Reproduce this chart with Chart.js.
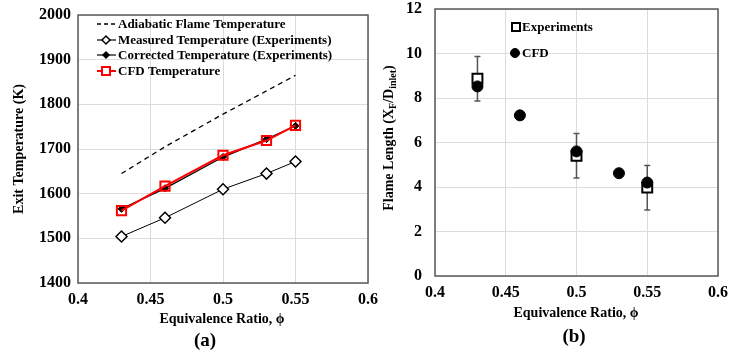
<!DOCTYPE html>
<html>
<head>
<meta charset="utf-8">
<script src="https://cdn.jsdelivr.net/npm/chart.js@4.4.1/dist/chart.umd.min.js"></script>
<style>
  body { margin: 0; background: #fff; }
  #wrap { position: relative; width: 743px; height: 356px; overflow: hidden; }
  #chartA { position: absolute; left: 0; top: 0; }
  #chartB { position: absolute; left: 372px; top: 0; }
</style>
</head>
<body>
<div id="wrap">
  <canvas id="chartA" width="390" height="356"></canvas>
  <canvas id="chartB" width="371" height="356"></canvas>
</div>
<script>
// panel (a): exit temperature
const phi = [0.43, 0.46, 0.5, 0.53, 0.55];
const adiabaticT = [1645, 1705, 1778, 1830, 1865];
const measuredT = [1504, 1546, 1610, 1645, 1672];
const correctedT = [1566, 1612, 1682, 1722, 1752];
const cfdT = [1562, 1617, 1686, 1719, 1753];

// panel (b): flame length
const phiExp = [0.43, 0.5, 0.55];
const flameExp = [8.87, 5.4, 3.97];
const flameErr = [1.0, 1.0, 1.0];
const phiCfd = [0.43, 0.46, 0.5, 0.53, 0.55];
const flameCfd = [8.52, 7.22, 5.6, 4.62, 4.2];

const xTicks = ['0.4', '0.45', '0.5', '0.55', '0.6'];
const tempTicks = ['1400', '1500', '1600', '1700', '1800', '1900', '2000'];
const flameTicks = ['0', '2', '4', '6', '8', '10', '12'];

const FONT = '"Liberation Serif", "Times New Roman", serif';
const GRID = '#dcdcdc';

function pts(xs, ys) {
  return xs.map((x, i) => ({ x: x, y: ys[i] }));
}

// plot frame, error bars, titles and in-plot legend
const decor = {
  id: 'decor',
  beforeDatasetsDraw(chart, args, o) {
    const ctx = chart.ctx;
    const a = chart.chartArea;
    ctx.save();
    ctx.strokeStyle = '#595959';
    ctx.lineWidth = 1.5;
    ctx.strokeRect(a.left, a.top, a.right - a.left, a.bottom - a.top);
    if (o.errors) {
      const xs = chart.scales.x, ys = chart.scales.y;
      ctx.strokeStyle = '#555';
      ctx.lineWidth = 1.5;
      o.errors.x.forEach((v, i) => {
        const px = xs.getPixelForValue(v);
        const top = ys.getPixelForValue(o.errors.y[i] + o.errors.e[i]);
        const bot = ys.getPixelForValue(o.errors.y[i] - o.errors.e[i]);
        ctx.beginPath();
        ctx.moveTo(px, top); ctx.lineTo(px, bot);
        ctx.moveTo(px - 3, top); ctx.lineTo(px + 3, top);
        ctx.moveTo(px - 3, bot); ctx.lineTo(px + 3, bot);
        ctx.stroke();
      });
    }
    ctx.restore();
  },
  afterDraw(chart, args, o) {
    const ctx = chart.ctx;
    ctx.save();
    ctx.fillStyle = '#000';
    ctx.textAlign = 'center';
    ctx.textBaseline = 'middle';
    ctx.font = 'bold 14px ' + FONT;
    ctx.fillText(o.xTitle, o.xTitlePos[0], o.xTitlePos[1]);
    ctx.font = 'bold 19px ' + FONT;
    ctx.fillText(o.tag, o.tagPos[0], o.tagPos[1]);

    // rotated y title, pieces may be subscripts
    ctx.translate(o.yTitlePos[0], o.yTitlePos[1]);
    ctx.rotate(-Math.PI / 2);
    ctx.textAlign = 'left';
    let total = 0;
    o.yTitle.forEach(p => {
      ctx.font = 'bold ' + (p.sub ? 10 : 14) + 'px ' + FONT;
      total += ctx.measureText(p.t).width;
    });
    let cx = -total / 2;
    o.yTitle.forEach(p => {
      ctx.font = 'bold ' + (p.sub ? 10 : 14) + 'px ' + FONT;
      ctx.fillText(p.t, cx, p.sub ? 4 : 0);
      cx += ctx.measureText(p.t).width;
    });
    ctx.setTransform(1, 0, 0, 1, 0, 0);

    // legend
    ctx.font = 'bold 13px ' + FONT;
    ctx.textAlign = 'left';
    o.legend.forEach(it => {
      ctx.strokeStyle = it.color;
      ctx.fillStyle = it.color;
      if (it.line) {
        ctx.lineWidth = it.lineWidth;
        ctx.setLineDash(it.dash || []);
        ctx.beginPath();
        ctx.moveTo(it.x0, it.y); ctx.lineTo(it.x1, it.y);
        ctx.stroke();
        ctx.setLineDash([]);
      }
      const mx = it.mx, my = it.y, r = it.r;
      ctx.lineWidth = it.mw || 1.5;
      ctx.beginPath();
      if (it.marker === 'diamond') {
        ctx.moveTo(mx, my - r); ctx.lineTo(mx + r, my);
        ctx.lineTo(mx, my + r); ctx.lineTo(mx - r, my); ctx.closePath();
      } else if (it.marker === 'square') {
        ctx.rect(mx - r, my - r, 2 * r, 2 * r);
      } else if (it.marker === 'circle') {
        ctx.arc(mx, my, r, 0, Math.PI * 2);
      }
      if (it.marker) {
        if (it.fill) { ctx.fillStyle = it.fill; ctx.fill(); }
        ctx.stroke();
      }
      ctx.fillStyle = '#000';
      ctx.fillText(it.label, it.tx, my + 1);
    });
    ctx.restore();
  }
};

// axis boxes get a fixed size; chart padding alone sets the plot edges
function axes(yMin, yMax, yStep, yLabels, xFitH, yFitW, yPad) {
  return {
    x: {
      type: 'linear', min: 0.4, max: 0.6,
      grid: { color: GRID, drawTicks: false },
      border: { display: false },
      ticks: {
        stepSize: 0.05, padding: 7, color: '#000',
        font: { family: FONT, size: 16, weight: 'bold' },
        callback: (v, i) => xTicks[i]
      },
      afterFit: s => { s.height = xFitH; s.paddingLeft = 0; s.paddingRight = 0; }
    },
    y: {
      min: yMin, max: yMax,
      grid: { color: GRID, drawTicks: false },
      border: { display: false },
      ticks: {
        stepSize: yStep, padding: yPad, color: '#000',
        font: { family: FONT, size: 16, weight: 'bold' },
        callback: (v, i) => yLabels[i]
      },
      afterFit: s => { s.width = yFitW; s.paddingTop = 0; s.paddingBottom = 0; }
    }
  };
}

new Chart(document.getElementById('chartA'), {
  type: 'line',
  data: {
    datasets: [
      {
        label: 'Adiabatic Flame Temperature', data: pts(phi, adiabaticT), order: 3,
        borderColor: '#000', borderWidth: 1.3, borderDash: [5, 4], pointRadius: 0
      },
      {
        label: 'Measured Temperature (Experiments)', data: pts(phi, measuredT), order: 2,
        borderColor: '#000', borderWidth: 1, pointStyle: 'rectRot', pointRadius: 5.5,
        pointBackgroundColor: '#fff', pointBorderColor: '#000', pointBorderWidth: 1.5
      },
      {
        label: 'Corrected Temperature (Experiments)', data: pts(phi, correctedT), order: 1,
        borderColor: '#000', borderWidth: 1.3, pointStyle: 'rectRot', pointRadius: 3.5,
        pointBackgroundColor: '#000', pointBorderColor: '#000', pointBorderWidth: 1
      },
      {
        label: 'CFD Temperature', data: pts(phi, cfdT), order: 0,
        borderColor: '#ff0000', borderWidth: 2, pointStyle: 'rect', pointRadius: 6.5,
        pointBackgroundColor: 'rgba(0,0,0,0)', pointBorderColor: '#ff0000', pointBorderWidth: 2
      }
    ]
  },
  options: {
    responsive: false, animation: false, events: [],
    layout: { padding: { left: 0, right: 22, top: 15, bottom: 0 } },
    scales: axes(1400, 2000, 100, tempTicks, 73, 78, 7),
    plugins: {
      legend: { display: false }, tooltip: { enabled: false },
      decor: {
        xTitle: 'Equivalence Ratio, \u03d5', xTitlePos: [222, 319],
        tag: '(a)', tagPos: [205, 341],
        yTitle: [{ t: 'Exit Temperature (K)' }], yTitlePos: [19, 149],
        legend: [
          { label: 'Adiabatic Flame Temperature', color: '#000', line: true, lineWidth: 1.3, dash: [4, 3], x0: 97, x1: 116, y: 24, tx: 118 },
          { label: 'Measured Temperature (Experiments)', color: '#000', line: true, lineWidth: 1.2, x0: 97, x1: 116, y: 40, tx: 118, marker: 'diamond', mx: 106, r: 4, fill: '#fff' },
          { label: 'Corrected Temperature (Experiments)', color: '#000', line: true, lineWidth: 1.2, x0: 97, x1: 116, y: 55, tx: 118, marker: 'diamond', mx: 106, r: 3, fill: '#000' },
          { label: 'CFD Temperature', color: '#ff0000', line: true, lineWidth: 2, x0: 97, x1: 116, y: 71, tx: 118, marker: 'square', mx: 106, r: 4, mw: 2, fill: '#fff' }
        ]
      }
    }
  },
  plugins: [decor]
});

new Chart(document.getElementById('chartB'), {
  type: 'scatter',
  data: {
    datasets: [
      {
        label: 'Experiments', data: pts(phiExp, flameExp), order: 1,
        pointStyle: 'rect', pointRadius: 7, pointBackgroundColor: '#fff',
        pointBorderColor: '#000', pointBorderWidth: 2
      },
      {
        label: 'CFD', data: pts(phiCfd, flameCfd), order: 0,
        pointStyle: 'circle', pointRadius: 5.5, pointBackgroundColor: '#000',
        pointBorderColor: '#000', pointBorderWidth: 1
      }
    ]
  },
  options: {
    responsive: false, animation: false, events: [],
    layout: { padding: { left: 0, right: 25, top: 9, bottom: 0 } },
    scales: axes(0, 12, 2, flameTicks, 80, 63, 13),
    plugins: {
      legend: { display: false }, tooltip: { enabled: false },
      decor: {
        errors: { x: phiExp, y: flameExp, e: flameErr },
        xTitle: 'Equivalence Ratio, \u03d5', xTitlePos: [204, 313],
        tag: '(b)', tagPos: [202, 337],
        yTitle: [{ t: 'Flame Length (X' }, { t: 'F', sub: true }, { t: '/D' }, { t: 'inlet', sub: true }, { t: ')' }],
        yTitlePos: [17, 138],
        legend: [
          { label: 'Experiments', color: '#000', y: 27, tx: 150, marker: 'square', mx: 144, r: 4, mw: 2, fill: '#fff' },
          { label: 'CFD', color: '#000', y: 53, tx: 150, marker: 'circle', mx: 143, r: 4.5, mw: 1, fill: '#000' }
        ]
      }
    }
  },
  plugins: [decor]
});
</script>
</body>
</html>
